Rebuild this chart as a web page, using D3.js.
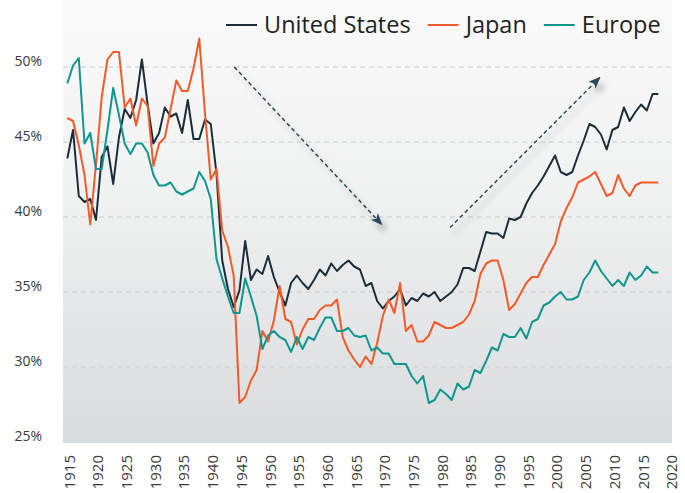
<!DOCTYPE html>
<html>
<head>
<meta charset="utf-8">
<script src="https://cdn.jsdelivr.net/npm/d3@7"></script>
<style>
  html, body { margin: 0; padding: 0; background: #ffffff; }
  svg { display: block; font-family: "Open Sans", "Noto Sans", sans-serif; }
</style>
</head>
<body>
<div id="chart"></div>
<script>
// ---------------- data ----------------
const years = d3.range(1915, 2019);

const unitedStates = [
  43.9, 45.8, 41.4, 41.0, 41.2, 39.8, 44.0, 44.7, 42.2, 45.3,   // 1915-1924
  47.2, 46.6, 47.8, 50.5, 47.5, 44.9, 45.6, 47.3, 46.7, 46.9,   // 1925-1934
  45.6, 47.8, 45.2, 45.2, 46.5, 46.2, 42.9, 37.1, 35.2, 34.0,   // 1935-1944
  35.1, 38.4, 35.8, 36.5, 36.2, 37.4, 36.0, 35.0, 34.1, 35.6,   // 1945-1954
  36.1, 35.6, 35.2, 35.8, 36.5, 36.1, 36.9, 36.4, 36.8, 37.1,   // 1955-1964
  36.7, 36.5, 35.4, 35.6, 34.4, 33.9, 34.4, 34.7, 35.2, 34.1,   // 1965-1974
  34.6, 34.4, 34.9, 34.7, 35.0, 34.4, 34.7, 35.0, 35.5, 36.6,   // 1975-1984
  36.6, 36.4, 37.7, 39.0, 38.9, 38.9, 38.6, 39.9, 39.8, 40.0,   // 1985-1994
  40.9, 41.6, 42.1, 42.7, 43.4, 44.1, 43.0, 42.8, 43.0, 44.1,   // 1995-2004
  45.1, 46.2, 46.0, 45.5, 44.5, 45.8, 46.0, 47.3, 46.4, 47.0,   // 2005-2014
  47.5, 47.1, 48.2, 48.2                                        // 2015-2018
];

const japan = [
  46.6, 46.4, 44.8, 42.8, 39.5, 43.5, 48.0, 50.5, 51.0, 51.0,
  47.3, 47.9, 46.1, 47.9, 47.4, 43.4, 44.9, 45.3, 47.2, 49.1,
  48.4, 48.4, 49.9, 51.9, 46.9, 42.5, 43.2, 39.1, 38.0, 36.1,
  27.6, 28.0, 29.1, 29.8, 32.4, 31.7, 33.1, 35.4, 33.2, 33.0,
  31.5, 32.5, 33.2, 33.2, 33.8, 34.1, 34.1, 34.5, 32.0, 31.1,
  30.5, 30.0, 30.7, 30.2, 31.6, 33.4, 34.5, 33.6, 35.6, 32.4,
  32.8, 31.7, 31.7, 32.1, 33.0, 32.8, 32.6, 32.6, 32.8, 33.0,
  33.5, 34.4, 36.2, 36.9, 37.1, 37.1, 35.8, 33.8, 34.2, 34.9,
  35.6, 36.0, 36.0, 36.8, 37.5, 38.2, 39.7, 40.6, 41.3, 42.3,
  42.5, 42.7, 43.0, 42.2, 41.4, 41.6, 42.8, 41.9, 41.4, 42.1,
  42.3, 42.3, 42.3, 42.3
];

const europe = [
  48.9, 50.1, 50.6, 44.9, 45.6, 43.2, 43.2, 45.8, 48.6, 46.8,
  44.9, 44.2, 44.9, 44.9, 44.3, 42.8, 42.1, 42.1, 42.3, 41.7,
  41.5, 41.7, 41.9, 43.0, 42.4, 41.2, 37.2, 35.9, 34.7, 33.6,
  33.6, 35.9, 34.7, 33.4, 31.2, 32.1, 32.4, 32.0, 31.8, 31.0,
  32.0, 31.2, 32.0, 31.8, 32.6, 33.3, 33.3, 32.4, 32.4, 32.6,
  32.1, 32.0, 32.1, 31.1, 31.3, 30.9, 30.9, 30.2, 30.2, 30.2,
  29.4, 28.9, 29.4, 27.6, 27.8, 28.5, 28.2, 27.8, 28.9, 28.5,
  28.7, 29.8, 29.6, 30.4, 31.3, 31.1, 32.2, 32.0, 32.0, 32.6,
  31.9, 33.0, 33.2, 34.1, 34.3, 34.7, 35.0, 34.5, 34.5, 34.7,
  35.8, 36.3, 37.1, 36.4, 35.9, 35.4, 35.8, 35.4, 36.3, 35.8,
  36.1, 36.7, 36.3, 36.3
];

const seriesNames = ["United States", "Japan", "Europe"];
const seriesColors = ["#1b2d3b", "#f15a2b", "#10968e"];
const seriesValues = [unitedStates, japan, europe];

const xTickLabels = d3.range(1915, 2021, 5);
const yTickLabels = [25, 30, 35, 40, 45, 50];
const gridValues = [30, 35, 40, 45, 50];

// trend arrows in data units: [year, value] start -> end
const arrowDown = [[1944.1, 50.0], [1969.8, 39.5]];
const arrowUp = [[1981.7, 39.3], [2007.8, 49.3]];

// ---------------- layout ----------------
const W = 685, H = 493;
const panel = { left: 63, right: 672, top: 0, bottom: 443 };

const x = d3.scaleLinear().domain([1915, 2020]).range([67.3, 669.8]);
const y = d3.scaleLinear().domain([25, 50]).range([442, 67]);

const svg = d3.select("#chart").append("svg")
  .attr("width", W).attr("height", H);

const defs = svg.append("defs");
const grad = defs.append("linearGradient")
  .attr("id", "panelGrad").attr("x1", 0).attr("y1", 0).attr("x2", 0).attr("y2", 1);
grad.append("stop").attr("offset", "0%").attr("stop-color", "#fafafa");
grad.append("stop").attr("offset", "45%").attr("stop-color", "#f0f1f1");
grad.append("stop").attr("offset", "100%").attr("stop-color", "#d8dbdd");

const shadow = defs.append("filter").attr("id", "arrowShadow")
  .attr("x", "-20%").attr("y", "-20%").attr("width", "160%").attr("height", "160%");
shadow.append("feDropShadow")
  .attr("dx", 4).attr("dy", 6).attr("stdDeviation", 3)
  .attr("flood-color", "#000").attr("flood-opacity", 0.3);

defs.append("marker")
  .attr("id", "arrowHead")
  .attr("viewBox", "0 0 12 10")
  .attr("refX", 11).attr("refY", 5)
  .attr("markerWidth", 12).attr("markerHeight", 10)
  .attr("markerUnits", "userSpaceOnUse")
  .attr("orient", "auto")
  .append("path")
  .attr("d", "M0,0 L12,5 L0,10 L3,5 Z")
  .attr("fill", "#2b4a5a");

// panel background
svg.append("rect")
  .attr("x", panel.left).attr("y", panel.top)
  .attr("width", panel.right - panel.left)
  .attr("height", panel.bottom - panel.top)
  .attr("fill", "url(#panelGrad)");

// grid lines
svg.append("g").selectAll("line")
  .data(gridValues).join("line")
  .attr("x1", panel.left).attr("x2", panel.right)
  .attr("y1", d => y(d)).attr("y2", d => y(d))
  .attr("stroke", "#c9cbcc")
  .attr("stroke-width", 1)
  .attr("stroke-dasharray", "5,4");

// y axis labels
const yAxis = svg.append("g")
  .attr("transform", `translate(${panel.left},0)`)
  .call(d3.axisLeft(y).tickValues(yTickLabels).tickFormat(d => d + "%").tickSize(0).tickPadding(21));
yAxis.select(".domain").remove();
yAxis.selectAll("text")
  .attr("dy", "-0.08em")
  .style("font-size", "14px")
  .style("font-family", "'Open Sans', sans-serif")
  .attr("fill", "#3a3a3a");

// x axis labels
const xAxis = svg.append("g")
  .attr("transform", `translate(0,${panel.bottom})`)
  .call(d3.axisBottom(x).tickValues(xTickLabels).tickFormat(d3.format("d")).tickSize(0));
xAxis.select(".domain").remove();
xAxis.selectAll("text")
  .attr("transform", "rotate(-90)")
  .attr("x", -12).attr("y", 1.5).attr("dy", "0.36em")
  .style("text-anchor", "end")
  .style("font-size", "15px")
  .style("font-family", "'Open Sans', sans-serif")
  .attr("fill", "#3a3a3a");

// lines
const line = d3.line()
  .x((d, i) => x(years[i]))
  .y(d => y(d));

svg.append("g").selectAll("path")
  .data(seriesValues).join("path")
  .attr("d", d => line(d))
  .attr("fill", "none")
  .attr("stroke", (d, i) => seriesColors[i])
  .attr("stroke-width", 2)
  .attr("stroke-linejoin", "round");

// trend arrows
const arrows = svg.append("g");
[arrowDown, arrowUp].forEach(a => {
  arrows.append("line")
    .attr("x1", x(a[0][0])).attr("y1", y(a[0][1]))
    .attr("x2", x(a[1][0])).attr("y2", y(a[1][1]))
    .attr("stroke", "#2b4a5a")
    .attr("stroke-width", 1.5)
    .attr("stroke-dasharray", "4,3")
    .attr("marker-end", "url(#arrowHead)")
    .attr("filter", "url(#arrowShadow)");
});

// legend
const legend = svg.append("g").attr("transform", "translate(226,25)");
let lx = 0;
seriesNames.forEach((name, i) => {
  const g = legend.append("g").attr("transform", `translate(${lx},0)`);
  g.append("line")
    .attr("x1", 0).attr("x2", 31).attr("y1", 0).attr("y2", 0)
    .attr("stroke", seriesColors[i]).attr("stroke-width", 2);
  const t = g.append("text")
    .attr("x", 38).attr("y", 0).attr("dy", "0.34em")
    .style("font-size", "23.5px")
    .style("font-family", "'Open Sans', sans-serif")
    .attr("fill", "#222")
    .text(name);
  lx += 38 + t.node().getComputedTextLength() + 17;
});
</script>
</body>
</html>
